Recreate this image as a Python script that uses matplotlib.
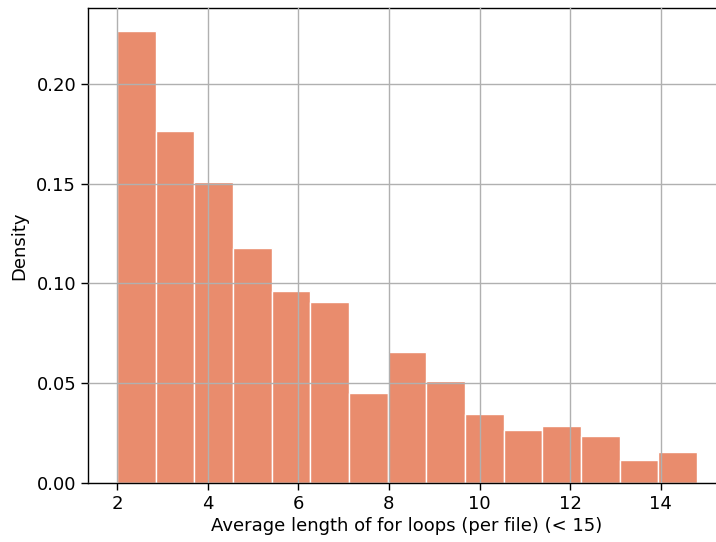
import numpy as np
import matplotlib
matplotlib.use("Agg")
import matplotlib.pyplot as plt

# Histogramm-Daten: Klassengrenzen und Dichte je Klasse
bin_start = 2.0
bin_stop = 14.8
n_bins = 15
density = [0.2267, 0.1763, 0.1506, 0.1176, 0.0963, 0.0909, 0.0451, 0.0654,
           0.0510, 0.0344, 0.0265, 0.0287, 0.0238, 0.0116, 0.0153]
x_ticks = [2, 4, 6, 8, 10, 12, 14]
y_ticks = [0.00, 0.05, 0.10, 0.15, 0.20]

edges = np.linspace(bin_start, bin_stop, n_bins + 1)
widths = np.diff(edges)

fig = plt.figure(figsize=(7.16, 5.42), dpi=100)
ax = fig.add_axes([88 / 716, 59 / 542, (726 - 88) / 716, 475 / 542])

ax.bar(edges[:-1], density, width=widths, align="edge",
       color="#E98C6D", edgecolor="white", linewidth=1.0, zorder=1)

# Gitter liegt über den Balken
ax.grid(True, color="#b0b0b0", linewidth=1.0, zorder=2)
ax.set_axisbelow(False)

span = bin_stop - bin_start
ax.set_xlim(bin_start - 0.05 * span, bin_stop + 0.05 * span)
ax.set_ylim(0, max(density) * 1.05)
ax.set_xticks(x_ticks)
ax.set_yticks(y_ticks)
ax.set_yticklabels([f"{v:.2f}" for v in y_ticks])

ax.tick_params(labelsize=13, length=5, width=1.0)
for s in ax.spines.values():
    s.set_linewidth(1.0)

ax.set_xlabel("Average length of for loops (per file) (< 15)", fontsize=13, labelpad=3)
ax.set_ylabel("Density", fontsize=13, labelpad=6)

fig.savefig("out.png", dpi=100)
